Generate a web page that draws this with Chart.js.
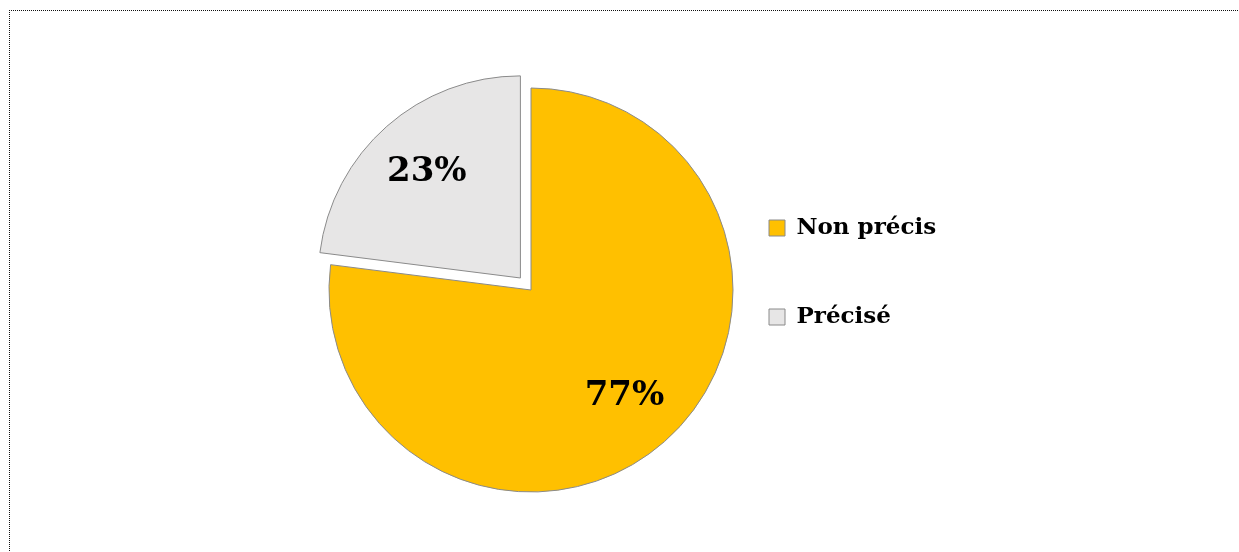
<!DOCTYPE html>
<html>
<head>
<meta charset="utf-8">
<script src="https://cdn.jsdelivr.net/npm/chart.js@4"></script>
<style>
  html, body { margin: 0; padding: 0; background: #fff; overflow: hidden; }
  #frame { position: absolute; left: 9px; top: 10px; width: 1400px; height: 700px;
           border-left: 1px dotted #111; border-top: 1px dotted #111; }
  #wrap { position: absolute; left: 0; top: 0; width: 1239px; height: 552px; }
</style>
</head>
<body>
<div id="frame"></div>
<div id="wrap"><canvas id="c" width="1239" height="552"></canvas></div>
<script>
const categories = ['Non précis', 'Précisé'];
const values = [77, 23];
const colors = ['#FFC000', '#E7E6E6'];

const FONT = '"DejaVu Serif", "Liberation Serif", serif';
const legendSize = 23;
const legendPad = 66;
const boxW = 16;

// measure widest legend label to place the legend box
const mctx = document.createElement('canvas').getContext('2d');
mctx.font = 'bold ' + legendSize + 'px ' + FONT;
const maxTextW = Math.max(...categories.map(t => mctx.measureText(t).width));
const legendW = legendPad + boxW + legendSize / 2 + maxTextW + 10;
const legendLeft = 703;
const padRight = 1239 - legendLeft - legendW;
const centerX = 531;
const padLeft = 2 * centerX - legendLeft;
const padTop = 150.5;
const padBottom = 122.5;

const pctLabels = {
  id: 'pctLabels',
  afterDatasetsDraw(chart) {
    const ctx = chart.ctx;
    const meta = chart.getDatasetMeta(0);
    const data = chart.data.datasets[0].data;
    const total = data.reduce((a, b) => a + b, 0);
    ctx.save();
    ctx.font = 'bold 34px ' + FONT;
    ctx.fillStyle = '#000';
    ctx.textAlign = 'center';
    ctx.textBaseline = 'middle';
    meta.data.forEach((arc, i) => {
      const p = arc.getProps(['x', 'y', 'startAngle', 'endAngle', 'outerRadius', 'circumference']);
      const mid = (p.startAngle + p.endAngle) / 2;
      const off = (arc.options.offset || 0) / 4;
      const fix = 1 - Math.sin(Math.min(Math.PI, p.circumference || 0));
      const shift = off + off * fix;
      const r = p.outerRadius * 0.70 + shift;
      const x = p.x + Math.cos(mid) * r;
      const y = p.y + Math.sin(mid) * r;
      ctx.fillText(Math.round(data[i] / total * 100) + '%', x, y);
    });
    ctx.restore();
  }
};

new Chart(document.getElementById('c'), {
  type: 'pie',
  data: {
    labels: categories,
    datasets: [{
      data: values,
      backgroundColor: colors,
      borderColor: '#8a8a8a',
      borderWidth: 1,
      offset: [0, 64],
      radius: 202,
      clip: false
    }]
  },
  options: {
    responsive: false,
    animation: false,
    layout: { padding: { left: padLeft, right: padRight, top: padTop, bottom: padBottom } },
    plugins: {
      tooltip: { enabled: false },
      legend: {
        position: 'right',
        align: 'start',
        labels: {
          boxWidth: boxW,
          boxHeight: 16,
          padding: legendPad,
          color: '#000',
          font: { family: FONT, size: legendSize, weight: 'bold' },
          generateLabels(chart) {
            const ds = chart.data.datasets[0];
            return chart.data.labels.map((l, i) => ({
              text: l,
              fillStyle: ds.backgroundColor[i],
              strokeStyle: '#8a8a8a',
              lineWidth: 1,
              fontColor: '#000',
              index: i,
              hidden: false
            }));
          }
        }
      }
    }
  },
  plugins: [pctLabels]
});
</script>
</body>
</html>
